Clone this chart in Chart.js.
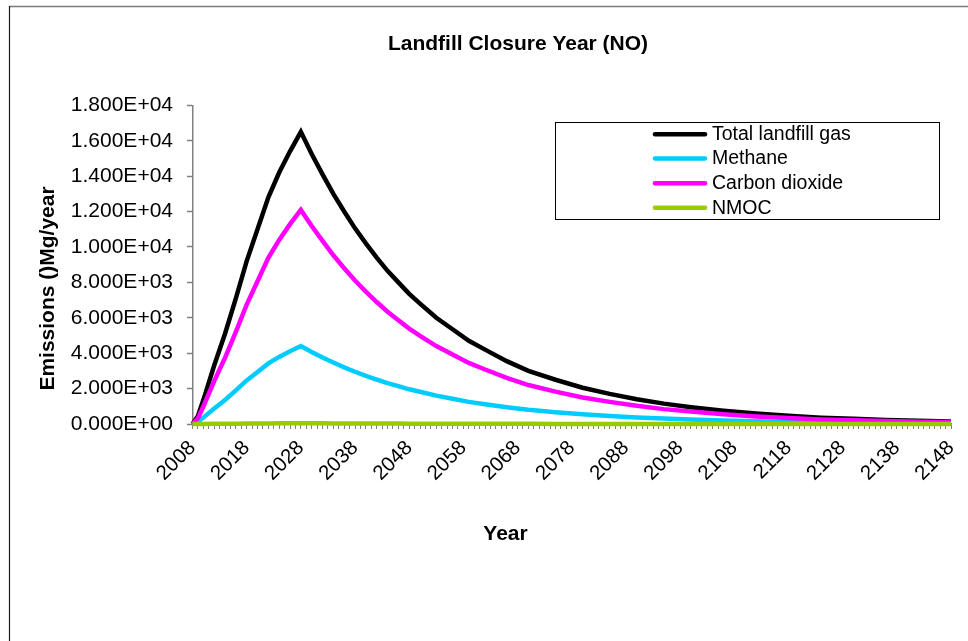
<!DOCTYPE html>
<html>
<head>
<meta charset="utf-8">
<script src="https://cdn.jsdelivr.net/npm/chart.js@4/dist/chart.umd.min.js"></script>
<style>
  html, body { margin: 0; padding: 0; background: #ffffff; }
  canvas { display: block; }
</style>
</head>
<body>
<canvas id="c" width="968" height="641"></canvas>
<script>
// ---- data ----
const chartTitle = 'Landfill Closure Year (NO)';
const xAxisTitle = 'Year';
const yAxisTitle = 'Emissions ()Mg/year';
const seriesNames = ['Total landfill gas', 'Methane', 'Carbon dioxide', 'NMOC'];
const seriesColors = ['#000000', '#00CCFF', '#FF00FF', '#99CC00'];

const years = [2008, 2009, 2010, 2012, 2014, 2016, 2018, 2020, 2022, 2024, 2026, 2028,
  2030, 2032, 2034, 2036, 2038, 2040, 2042, 2044, 2046, 2048, 2050, 2053, 2056, 2059,
  2062, 2066, 2070, 2075, 2080, 2085, 2090, 2095, 2100, 2106, 2112, 2118, 2124, 2130,
  2136, 2142, 2148];

const totalGas = [0, 450, 1350, 3300, 5100, 7100, 9200, 11000, 12800, 14200, 15400, 16500,
  15250, 14100, 13000, 12000, 11050, 10200, 9400, 8650, 8000, 7350, 6800, 6000, 5350, 4700,
  4200, 3550, 3000, 2500, 2050, 1700, 1400, 1150, 950, 750, 590, 460, 360, 290,
  230, 180, 145];

const methane = [0, 120, 360, 880, 1360, 1900, 2460, 2940, 3420, 3790, 4110, 4410,
  4070, 3760, 3470, 3200, 2950, 2720, 2510, 2310, 2140, 1960, 1820, 1600, 1430, 1250,
  1120, 950, 800, 670, 550, 450, 370, 310, 250, 200, 160, 120, 100, 80,
  60, 50, 40];

const carbonDioxide = [0, 330, 990, 2420, 3740, 5200, 6740, 8060, 9380, 10400, 11290, 12090,
  11180, 10340, 9530, 8800, 8100, 7480, 6890, 6340, 5860, 5390, 4980, 4400, 3920, 3450,
  3080, 2600, 2200, 1830, 1500, 1250, 1030, 840, 700, 550, 430, 340, 260, 210,
  170, 130, 110];

const nmoc = [0, 1, 4, 9, 14, 19, 25, 30, 35, 38, 42, 45,
  42, 38, 35, 33, 30, 28, 26, 24, 22, 20, 18, 16, 15, 13,
  11, 10, 8, 7, 6, 5, 4, 3, 3, 2, 2, 1, 1, 1,
  1, 0, 0];

const xMin = 2008, xMax = 2148, xLabelEvery = 10;
const yMin = 0, yMax = 18000, yStep = 2000;

// ---- chart ----
const FONT = '"Liberation Sans", Arial, Helvetica, sans-serif';
const seriesValues = [totalGas, methane, carbonDioxide, nmoc];

function sci(v) {
  if (v === 0) return '0.000E+00';
  const e = Math.floor(Math.log10(Math.abs(v)) + 1e-9);
  const m = v / Math.pow(10, e);
  return m.toFixed(3) + 'E' + (e < 0 ? '-' : '+') + String(Math.abs(e)).padStart(2, '0');
}

const datasets = seriesNames.map((name, i) => ({
  label: name,
  data: years.map((yr, j) => ({ x: yr, y: seriesValues[i][j] })),
  borderColor: seriesColors[i],
  backgroundColor: seriesColors[i],
  borderWidth: 4.5,
  pointRadius: 0,
  tension: 0,
  fill: false,
  clip: false,
  order: seriesNames.length - i
}));

const overlay = {
  id: 'overlay',
  afterDraw(chart) {
    const ctx = chart.ctx;
    ctx.save();
    // outer frame (partial, as in picture)
    ctx.strokeStyle = '#7a7a7a';
    ctx.lineWidth = 1.5;
    ctx.beginPath(); ctx.moveTo(9, 6.5); ctx.lineTo(968, 6.5); ctx.stroke();
    ctx.strokeStyle = '#1a1a1a';
    ctx.lineWidth = 1.2;
    ctx.beginPath(); ctx.moveTo(9.5, 6); ctx.lineTo(9.5, 641); ctx.stroke();

    ctx.fillStyle = '#000';
    // title
    ctx.font = 'bold 21px ' + FONT;
    ctx.textAlign = 'center';
    ctx.textBaseline = 'alphabetic';
    ctx.fillText(chartTitle, 518, 49.5);
    // x axis title
    ctx.fillText(xAxisTitle, 505.5, 540);
    // y axis title
    ctx.save();
    ctx.translate(48.5, 288.5);
    ctx.rotate(-Math.PI / 2);
    ctx.textBaseline = 'middle';
    ctx.fillText(yAxisTitle, 0, 0);
    ctx.restore();

    // legend
    ctx.strokeStyle = '#000';
    ctx.lineWidth = 1;
    ctx.strokeRect(555.5, 122.5, 384, 97);
    const rowY = [134.3, 158.6, 183.2, 207.7];
    ctx.font = '19.5px ' + FONT;
    ctx.textAlign = 'left';
    ctx.textBaseline = 'middle';
    chart.data.datasets.forEach((ds, i) => {
      ctx.strokeStyle = ds.borderColor;
      ctx.lineWidth = 4.5;
      ctx.lineCap = 'round';
      ctx.beginPath(); ctx.moveTo(655, rowY[i]); ctx.lineTo(705, rowY[i]); ctx.stroke();
      ctx.fillStyle = '#000';
      ctx.fillText(ds.label, 712, rowY[i] + 0.5);
    });
    ctx.restore();
  }
};

new Chart(document.getElementById('c'), {
  type: 'line',
  data: { datasets },
  plugins: [overlay],
  options: {
    responsive: false,
    animation: false,
    devicePixelRatio: 1,
    layout: { padding: { left: 0, top: 105.3, right: 17, bottom: 0 } },
    plugins: {
      legend: { display: false },
      title: { display: false },
      tooltip: { enabled: false }
    },
    scales: {
      x: {
        type: 'linear',
        min: xMin,
        max: xMax,
        afterFit(s) { s.height = 641 - 424; s.paddingRight = 0; s.paddingLeft = 0; },
        afterBuildTicks(s) {
          const t = [];
          for (let v = xMin; v <= xMax; v++) t.push({ value: v });
          s.ticks = t;
        },
        ticks: {
          autoSkip: false,
          stepSize: 1,
          minRotation: 45,
          maxRotation: 45,
          padding: 7,
          color: '#000',
          font: { family: FONT, size: 20.5 },
          callback(v) { return ((v - xMin) % xLabelEvery === 0) ? String(v) : ''; }
        },
        grid: {
          drawOnChartArea: false,
          drawTicks: true,
          tickLength: 5,
          tickColor: '#808080',
          tickWidth: 1
        },
        border: { display: true, color: '#808080', width: 1.5 }
      },
      y: {
        min: yMin,
        max: yMax,
        afterFit(s) { s.width = 192.5; },
        ticks: {
          stepSize: yStep,
          padding: 14,
          color: '#000',
          font: { family: FONT, size: 21 },
          callback(v) { return sci(v); }
        },
        grid: {
          drawOnChartArea: false,
          drawTicks: true,
          tickLength: 5.5,
          tickColor: '#808080',
          tickWidth: 1.5
        },
        border: { display: true, color: '#808080', width: 1.5 }
      }
    }
  }
});
</script>
</body>
</html>
